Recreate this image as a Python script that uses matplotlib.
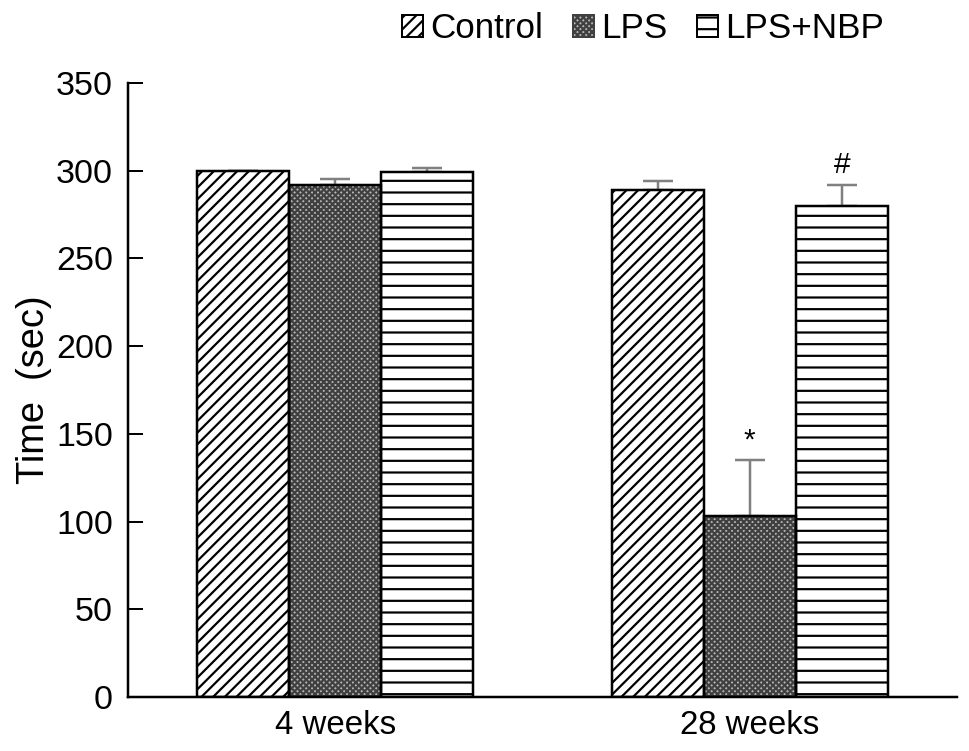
import numpy as np
import matplotlib
matplotlib.use("Agg")
import matplotlib.pyplot as plt
from matplotlib.patches import Patch

DPI = 70
P = 72.0 / DPI  # points per pixel

plt.rcParams['font.family'] = ['Liberation Sans', 'DejaVu Sans']
plt.rcParams['hatch.linewidth'] = 2.2 * P

groups = ['4 weeks', '28 weeks']
series = ['Control', 'LPS', 'LPS+NBP']
means = {
    'Control': [300, 289],
    'LPS': [292, 103],
    'LPS+NBP': [299, 280],
}
errs = {
    'Control': [0, 5],
    'LPS': [3.5, 32],
    'LPS+NBP': [2.5, 12],
}
marks = {('LPS', 1): '*', ('LPS+NBP', 1): '#'}

hatches = {'Control': '//', 'LPS': 'xxxx', 'LPS+NBP': '-'}
faces = {'Control': 'white', 'LPS': '#b4b4b4', 'LPS+NBP': 'white'}
hcol = {'Control': 'black', 'LPS': '#404040', 'LPS+NBP': 'black'}

fig = plt.figure(figsize=(969 / DPI, 751 / DPI), dpi=DPI)
ax = fig.add_axes([128 / 969, 54 / 751, 829 / 969, 614 / 751])

x = np.arange(len(groups))
w = 0.222
for i, s in enumerate(series):
    pos = x + (i - 1) * w
    # hatch layer, then black outline
    ax.bar(pos, means[s], w, color=faces[s], edgecolor=hcol[s], hatch=hatches[s],
           linewidth=0, zorder=2)
    ax.bar(pos, means[s], w, color='none', edgecolor='black', linewidth=2.5 * P, zorder=3)
    ax.errorbar(pos, means[s], yerr=[np.zeros(len(groups)), errs[s]], fmt='none',
                ecolor='#808080', elinewidth=2.5 * P, capsize=15 * P, capthick=2.5 * P,
                zorder=1)
    for j in range(len(groups)):
        if (s, j) in marks:
            ax.text(pos[j], means[s][j] + errs[s][j] + 11, marks[(s, j)],
                    ha='center', va='center', fontsize=30 * P)

ax.set_xlim(-0.5, 1.5)
ax.set_ylim(0, 350)
ax.set_yticks(np.arange(0, 351, 50))
ax.set_xticks(x)
ax.set_xticklabels(groups, fontsize=33 * P)
ax.tick_params(axis='x', length=0, pad=13 * P)
ax.tick_params(axis='y', labelsize=34 * P, width=2 * P, length=15 * P, direction='in',
               pad=15 * P)
ax.spines['top'].set_visible(False)
ax.spines['right'].set_visible(False)
ax.spines['left'].set_linewidth(2.5 * P)
ax.spines['bottom'].set_linewidth(2.5 * P)
ax.set_ylabel('Time  (sec)', fontsize=38 * P)
ax.yaxis.set_label_coords(-76 / 829, 0.5)

handles = [Patch(facecolor=faces[s], edgecolor=hcol[s], hatch=hatches[s], linewidth=2 * P)
           for s in series]
fig.legend(handles, series, loc='upper right', bbox_to_anchor=(884 / 969, 1 - 12 / 751),
           ncol=3, frameon=False, fontsize=35 * P, handlelength=0.6, handleheight=0.6,
           handletextpad=0.2, columnspacing=0.86, borderpad=0, borderaxespad=0)

fig.savefig('out.png', dpi=DPI)
